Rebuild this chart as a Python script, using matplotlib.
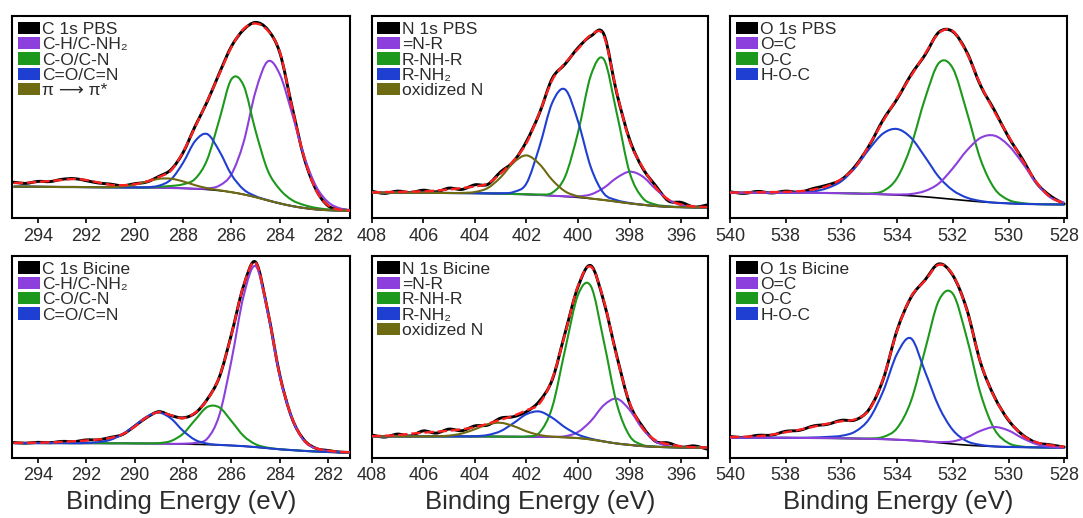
import matplotlib as mpl
import matplotlib.pyplot as plt
import numpy as np
from matplotlib.patches import Patch, PathPatch
from matplotlib.path import Path

# ---- binding energy grids (eV), read every 0.5 eV ----
c_ev = np.linspace(295.0, 281.0, 29)
n_ev = np.linspace(408.0, 395.0, 27)
o_ev = np.linspace(540.0, 528.0, 25)

C_TICKS = [294, 292, 290, 288, 286, 284, 282]
N_TICKS = [408, 406, 404, 402, 400, 398, 396]
O_TICKS = [540, 538, 536, 534, 532, 530, 528]

# intensities in arbitrary units (panel spans 0-202)
# components are given as height above the Shirley background

# C 1s PBS
c_pbs_bg = [31.3, 31.3, 31.2, 31.1, 31.0, 31.0, 30.9, 30.8, 30.7, 30.6,
            30.5, 30.4, 30.3, 30.0, 29.7, 29.2, 28.5, 27.4, 25.8, 23.6,
            20.8, 17.6, 14.6, 12.0, 10.0, 8.6, 7.8, 7.4, 7.2]
c_pbs_ch = [0] * 15 + [0.1, 1.0, 5.0, 18, 52, 106, 139, 129, 93, 52, 23, 8, 2.1, 0.4]
c_pbs_co = [0] * 12 + [1, 2, 4, 10, 30, 71, 113, 109, 66, 30, 14, 6, 3, 1.5, 0.8, 0.4, 0.2]
c_pbs_cdo = [0] * 10 + [0.1, 0.4, 2, 8.5, 25.5, 47.8, 55.4, 39.5, 17.5, 5, 1, 0.2] + [0] * 7
c_pbs_pi = [0] * 8 + [0.2, 1.0, 2.8, 6.0, 8.9, 9.3, 6.9, 3.6, 1.3, 0.4] + [0] * 11
c_pbs_fit = [35.0, 35.3, 36.0, 37.0, 38.0, 39.0, 38.0, 35.5, 33.2, 32.8,
             33.8, 36.5, 41.0, 47.5, 66.0, 91.0, 117.0, 144.0, 171.0, 189.0,
             194.5, 187.5, 166.0, 111.0, 61.0, 27.5, 12.5, 8.2, 7.5]
c_pbs_data = [35.8, 34.6, 36.6, 36.4, 38.7, 39.4, 37.3, 35.0, 33.9, 32.2,
              34.3, 36.0, 41.6, 48.3, 65.4, 91.8, 116.4, 144.8, 171.6, 188.2,
              195.6, 188.3, 165.2, 111.8, 60.4, 28.2, 12.0, 8.7, 7.2]

# C 1s Bicine
c_bic_bg = [14.6, 14.6, 14.6, 14.6, 14.6, 14.5, 14.5, 14.5, 14.4, 14.4,
            14.3, 14.2, 14.1, 13.9, 13.7, 13.4, 13.1, 12.7, 12.2, 11.5,
            10.6, 9.5, 8.4, 7.6, 6.8, 6.2, 5.7, 5.3, 5.0]
c_bic_ch = [0] * 14 + [0.3, 1.5, 6, 30, 85, 150, 181, 136, 73, 32, 10, 3, 1, 0.3, 0]
c_bic_co = [0] * 11 + [0.1, 0.5, 2.8, 10.3, 24.4, 37.6, 37.6, 24.4, 10.3, 2.8, 0.5, 0.1] + [0] * 6
c_bic_cdo = [0] * 5 + [0.05, 0.25, 1.05, 3.5, 9.1, 17.8, 26.8, 31, 25.3, 13.2, 4.4, 1.0, 0.1] + [0] * 11
c_bic_fit = [14.8, 14.9, 15.0, 15.3, 15.8, 16.5, 17.2, 18.2, 19.8, 23.5,
             31.0, 40.5, 45.5, 42.5, 39.5, 45.0, 58.0, 81.0, 123.0, 172.0,
             195.0, 147.0, 82.0, 40.0, 17.5, 9.5, 7.0, 5.8, 5.2]
c_bic_data = [15.2, 14.5, 15.4, 15.0, 16.3, 16.1, 17.8, 17.9, 20.3, 23.2,
              31.5, 40.2, 46.0, 42.1, 39.9, 44.6, 58.4, 80.6, 123.4, 171.6,
              195.6, 146.6, 82.4, 39.6, 17.8, 9.3, 7.2, 5.6, 5.3]

# N 1s PBS
n_pbs_bg = [25.3, 25.3, 25.3, 25.2, 25.2, 25.1, 25.0, 24.9, 24.8, 24.6,
            24.4, 24.0, 23.6, 23.0, 22.3, 21.5, 20.6, 19.4, 18.0, 16.3,
            14.6, 13.2, 12.0, 11.2, 10.8, 10.6, 10.5]
n_pbs_nr = [0] * 15 + [0.2, 1.0, 4.2, 12.2, 23.9, 31.7, 28.4, 17.2, 7.1, 2.0, 0.4, 0.1]
n_pbs_nhr = [0] * 12 + [0.2, 0.5, 3, 20, 65, 123.5, 140.7, 88.7, 30.9, 7, 1.5, 0.5, 0.2, 0, 0]
n_pbs_nh2 = [0] * 9 + [0.1, 0.3, 2, 11, 48, 93, 107, 76, 31, 6.5, 1.5, 0.4, 0.1] + [0] * 5
n_pbs_ox = [0] * 7 + [0.2, 1.2, 5.4, 16.3, 31.5, 39, 31, 15.7, 5.1, 1.1, 0.1] + [0] * 9
n_pbs_fit = [25.5, 26.0, 26.0, 26.5, 26.5, 27.5, 28.5, 30.0, 31.5, 34.5,
             44.5, 57.5, 75.0, 105.0, 138.0, 155.0, 169.0, 183.0, 182.0, 126.0,
             77.0, 51.0, 31.0, 18.5, 13.5, 11.5, 11.0]
n_pbs_data = [26.8, 24.6, 26.9, 25.4, 27.8, 26.2, 29.9, 28.6, 33.2, 33.6,
              46.2, 56.4, 76.6, 104.5, 139.6, 154.0, 170.2, 182.0, 183.8, 125.0,
              78.4, 50.0, 32.6, 17.2, 15.6, 11.0, 13.0]

# N 1s Bicine
n_bic_bg = [21.3, 21.3, 21.3, 21.3, 21.3, 21.3, 21.3, 21.3, 21.2, 21.2,
            21.1, 21.0, 20.9, 20.8, 20.6, 20.3, 19.6, 18.2, 16.2, 14.2,
            12.8, 11.6, 10.9, 10.5, 10.2, 10.1, 10.0]
n_bic_nr = [0] * 14 + [0.2, 1.2, 6.1, 18.6, 36.3, 44.8, 35.0, 17.3, 5.4, 1.1, 0.2, 0, 0]
n_bic_nhr = [0] * 12 + [0.4, 4.1, 30, 88, 143.3, 153.2, 100, 40, 9, 1.2, 0.2] + [0] * 4
n_bic_nh2 = [0] * 7 + [0.04, 0.3, 1.5, 5.5, 13.6, 22.6, 25.4, 19.3, 10.0, 3.5, 0.8, 0.1] + [0] * 8
n_bic_ox = [0] * 5 + [0.15, 0.8, 2.9, 7.3, 12.2, 13.8, 10.6, 5.5, 1.9, 0.5, 0.1] + [0] * 11
n_bic_fit = [21.5, 22.0, 22.5, 24.0, 25.0, 26.0, 27.0, 28.5, 30.5, 34.0,
             38.0, 42.0, 47.5, 54.0, 79.0, 124.0, 172.0, 191.0, 157.0, 101.0,
             55.0, 30.0, 17.5, 13.5, 11.5, 10.5, 10.2]
n_bic_data = [22.8, 20.6, 23.6, 21.8, 26.8, 24.6, 28.6, 27.0, 31.8, 32.6,
              39.6, 41.0, 46.0, 56.5, 78.0, 125.0, 171.0, 192.0, 156.0, 102.0,
              54.0, 31.2, 16.4, 14.8, 10.6, 11.8, 8.6]

# O 1s PBS
o_pbs_bg = [25.3, 25.3, 25.3, 25.3, 25.3, 25.2, 25.1, 25.0, 24.8, 24.5,
            24.1, 23.6, 23.0, 22.2, 21.2, 20.0, 18.7, 17.4, 16.2, 15.3,
            14.6, 14.1, 13.8, 13.6, 13.5]
o_pbs_oc = [0] * 11 + [0.1, 0.5, 1.8, 5.8, 14.6, 31, 50, 64, 67, 58, 41, 21, 7, 2]
o_pbs_o = [0] * 9 + [0.1, 0.5, 3.4, 17, 50, 98, 135, 131, 89, 42, 14, 3.5, 0.8, 0.1, 0, 0]
o_pbs_hoc = [0] * 4 + [0.1, 0.2, 1.5, 5, 12, 26, 45, 61, 66, 58, 40, 21, 9, 3, 0.8, 0.1] + [0] * 5
o_pbs_fit = [25.5, 25.5, 25.7, 25.9, 26.2, 26.8, 28.5, 32.0, 39.0, 51.0,
             73.0, 97.0, 120.0, 142.0, 164.0, 185.0, 187.0, 165.0, 133.0, 106.0,
             82.0, 58.0, 36.0, 21.0, 14.5]
o_pbs_data = [26.2, 24.6, 26.6, 25.0, 26.9, 25.8, 29.6, 33.0, 38.4, 52.0,
              72.5, 98.2, 119.0, 143.2, 163.0, 185.8, 186.4, 166.0, 132.2, 107.4,
              81.0, 59.0, 35.2, 22.2, 14.0]

# O 1s Bicine
o_bic_bg = [20.0, 20.0, 20.0, 19.9, 19.9, 19.8, 19.7, 19.6, 19.4, 19.2,
            18.9, 18.5, 18.0, 17.3, 16.3, 15.0, 13.7, 12.6, 11.8, 11.2,
            10.8, 10.5, 10.3, 10.1, 10.0]
o_bic_oc = [0] * 14 + [0.1, 0.6, 2.6, 7.7, 15.1, 19.5, 16.4, 9.1, 3.3, 0.8, 0.1]
o_bic_o = [0] * 10 + [0.3, 2.3, 11.6, 39.5, 91.2, 142.3, 150.3, 107.5, 52.0, 17.0, 3.8, 0.6, 0.1] + [0] * 2
o_bic_hoc = [0] * 6 + [0.5, 1.2, 2.5, 7, 20, 48, 86, 102, 70, 36, 14, 4, 1, 0.1] + [0] * 5
o_bic_fit = [20.5, 21.0, 21.5, 23.0, 25.5, 28.0, 31.0, 34.0, 36.5, 38.5,
             48.0, 79.0, 127.0, 161.0, 177.0, 193.0, 183.0, 148.0, 95.0, 60.0,
             38.0, 22.5, 15.5, 12.5, 11.0]
o_bic_data = [21.2, 20.2, 22.4, 22.6, 26.4, 27.4, 31.8, 33.4, 37.4, 37.8,
              48.6, 78.4, 127.6, 160.4, 177.6, 193.8, 182.4, 148.6, 94.6, 60.6,
              37.4, 23.0, 15.0, 12.9, 10.6]

PURPLE = "#8c3fdc"
GREEN = "#1c991c"
BLUE = "#1f3fd2"
OLIVE = "#6e6b12"
RED = "#ff2020"
TEXT = "#2b2b2b"

mpl.rcParams.update({
    "font.family": ["Liberation Sans", "DejaVu Sans"],
    "axes.linewidth": 1.5,
})


def smooth_path(x, y):
    """Catmull-Rom curve through the read points, as cubic Bezier segments."""
    x = np.asarray(x, float)
    y = np.asarray(y, float)
    n = len(x)
    verts = [(x[0], y[0])]
    codes = [Path.MOVETO]
    for i in range(n - 1):
        i0, i3 = max(i - 1, 0), min(i + 2, n - 1)
        verts.append((x[i] + (x[i + 1] - x[i0]) / 6, y[i] + (y[i + 1] - y[i0]) / 6))
        verts.append((x[i + 1] - (x[i3] - x[i]) / 6, y[i + 1] - (y[i3] - y[i]) / 6))
        verts.append((x[i + 1], y[i + 1]))
        codes += [Path.CURVE4] * 3
    return Path(verts, codes)


def draw_curve(ax, x, y, **kw):
    ax.add_patch(PathPatch(smooth_path(x, y), fill=False, joinstyle="round", **kw))


def draw_panel(ax, ev, bg, data, fit, title, comps, top, xlim, ticks, xlabel=False):
    bg = np.asarray(bg, float)
    draw_curve(ax, ev, bg, edgecolor="black", lw=1.2, zorder=2)
    draw_curve(ax, ev, data, edgecolor="black", lw=2.1, capstyle="round", zorder=3)
    order = [i for i in range(len(comps)) if i != top] + [top]
    for z, i in enumerate(order):
        _, color, vals = comps[i]
        draw_curve(ax, ev, bg + np.asarray(vals, float), edgecolor=color, lw=1.5, zorder=4 + z)
    draw_curve(ax, ev, fit, edgecolor=RED, lw=1.7, linestyle=(0, (4, 1.6)), zorder=12)

    handles = [Patch(facecolor="black", edgecolor="none", label=title)]
    handles += [Patch(facecolor=c, edgecolor="none", label=lab) for lab, c, _ in comps]
    ax.legend(handles=handles, loc="upper left", frameon=False, fontsize=12.5,
              handlelength=1.3, handleheight=0.7, handletextpad=0.12,
              labelspacing=0.01, borderaxespad=0.25, borderpad=0.08,
              labelcolor=TEXT)

    ax.set_xlim(*xlim)
    ax.set_ylim(0, 202)
    ax.set_xticks(ticks)
    ax.set_yticks([])
    ax.tick_params(axis="x", direction="out", length=3.5, width=1.2, pad=3.5,
                   labelsize=13, labelcolor=TEXT)
    if xlabel:
        ax.set_xlabel("Binding Energy (eV)", fontsize=18.5, color=TEXT, labelpad=4)


W, H = 1083, 518
fig = plt.figure(figsize=(W / 100, H / 100), dpi=100, facecolor="white")
cols = [(12, 350), (371.7, 708.3), (730, 1067)]
rows = [(16, 218), (255.7, 457.7)]


def panel_axes(col, row):
    l, r = cols[col]
    t, b = rows[row]
    return fig.add_axes([l / W, 1 - b / H, (r - l) / W, (b - t) / H])


c_pbs_comps = [("C-H/C-NH₂", PURPLE, c_pbs_ch), ("C-O/C-N", GREEN, c_pbs_co),
               ("C=O/C=N", BLUE, c_pbs_cdo), ("π ⟶ π*", OLIVE, c_pbs_pi)]
c_bic_comps = [("C-H/C-NH₂", PURPLE, c_bic_ch), ("C-O/C-N", GREEN, c_bic_co),
               ("C=O/C=N", BLUE, c_bic_cdo)]
n_pbs_comps = [("=N-R", PURPLE, n_pbs_nr), ("R-NH-R", GREEN, n_pbs_nhr),
               ("R-NH₂", BLUE, n_pbs_nh2), ("oxidized N", OLIVE, n_pbs_ox)]
n_bic_comps = [("=N-R", PURPLE, n_bic_nr), ("R-NH-R", GREEN, n_bic_nhr),
               ("R-NH₂", BLUE, n_bic_nh2), ("oxidized N", OLIVE, n_bic_ox)]
o_pbs_comps = [("O=C", PURPLE, o_pbs_oc), ("O-C", GREEN, o_pbs_o), ("H-O-C", BLUE, o_pbs_hoc)]
o_bic_comps = [("O=C", PURPLE, o_bic_oc), ("O-C", GREEN, o_bic_o), ("H-O-C", BLUE, o_bic_hoc)]

c_lim = (295.07, 281.1)
n_lim = (408.0, 394.95)
o_lim = (540.0, 527.9)

draw_panel(panel_axes(0, 0), c_ev, c_pbs_bg, c_pbs_data, c_pbs_fit, "C 1s PBS",
           c_pbs_comps, 3, c_lim, C_TICKS)
draw_panel(panel_axes(1, 0), n_ev, n_pbs_bg, n_pbs_data, n_pbs_fit, "N 1s PBS",
           n_pbs_comps, 3, n_lim, N_TICKS)
draw_panel(panel_axes(2, 0), o_ev, o_pbs_bg, o_pbs_data, o_pbs_fit, "O 1s PBS",
           o_pbs_comps, 0, o_lim, O_TICKS)
draw_panel(panel_axes(0, 1), c_ev, c_bic_bg, c_bic_data, c_bic_fit, "C 1s Bicine",
           c_bic_comps, 2, c_lim, C_TICKS, xlabel=True)
draw_panel(panel_axes(1, 1), n_ev, n_bic_bg, n_bic_data, n_bic_fit, "N 1s Bicine",
           n_bic_comps, 3, n_lim, N_TICKS, xlabel=True)
draw_panel(panel_axes(2, 1), o_ev, o_bic_bg, o_bic_data, o_bic_fit, "O 1s Bicine",
           o_bic_comps, 0, o_lim, O_TICKS, xlabel=True)

fig.savefig("out.png", dpi=100, facecolor="white")
